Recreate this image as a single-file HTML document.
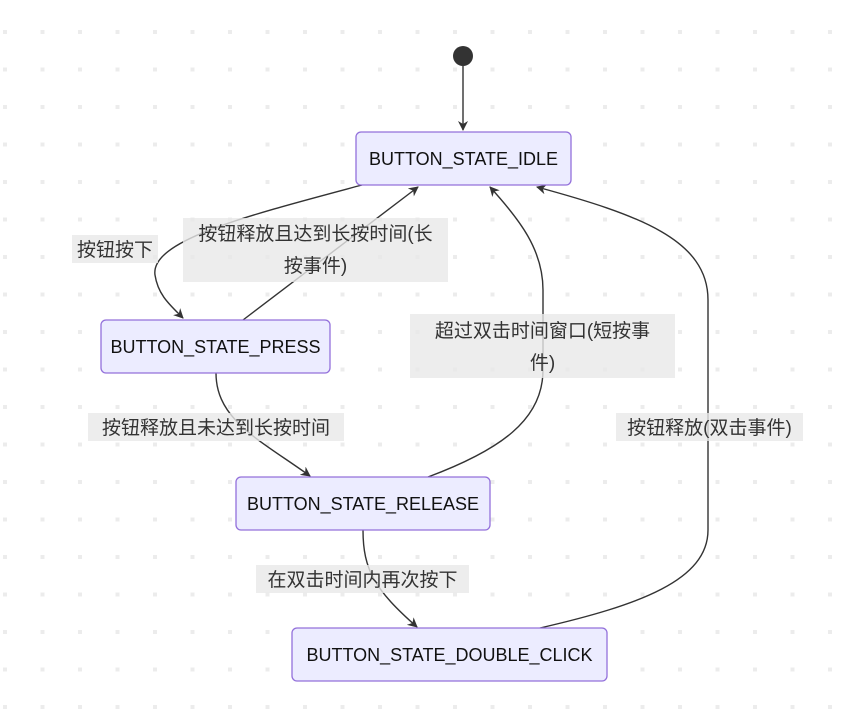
<!DOCTYPE html>
<html><head><meta charset="utf-8"><style>
html,body{margin:0;padding:0;background:#fff;}
svg{display:block;}
.n{fill:#ececff;stroke:#9370db;stroke-width:1.3;}
.t{font-family:"Liberation Sans","Noto Sans CJK SC",sans-serif;font-size:18px;fill:#111;text-anchor:middle;}
.l{font-family:"Liberation Sans","Noto Sans CJK SC",sans-serif;font-size:19px;fill:#333;text-anchor:middle;}
.e{fill:none;stroke:#333;stroke-width:1.4;marker-end:url(#a);}
.lb{fill:rgba(232,232,232,0.8);}
</style></head><body>
<svg width="844" height="720" viewBox="0 0 844 720" xmlns="http://www.w3.org/2000/svg">
<defs>
<pattern id="d" x="3" y="30" width="37.5" height="37.5" patternUnits="userSpaceOnUse"><rect x="0" y="0" width="4" height="4" fill="#ececec"/></pattern>
<marker id="a" viewBox="0 0 10 10" refX="9" refY="5" markerWidth="10" markerHeight="10" orient="auto-start-reverse" markerUnits="userSpaceOnUse"><path d="M0,0 L10,5 L0,10 L3,5 z" fill="#333"/></marker>
</defs>
<rect width="844" height="720" fill="url(#d)"/>
<circle cx="463" cy="56" r="10" fill="#333"/>
<path class="e" d="M463,66 L463,130"/>
<path class="e" d="M362,185 C250,215 150,240 155,275 C158,295 170,305 183,318"/>
<path class="e" d="M243,320 L418,187"/>
<path class="e" d="M216,373 C216,420 260,440 310,476"/>
<path class="e" d="M428,477 C500,450 543,420 543,370 L543,290 C543,250 520,220 490,187"/>
<path class="e" d="M363,530 C363,570 375,590 417,627"/>
<path class="e" d="M540,628 C640,605 708,580 708,530 L708,300 C708,240 640,215 537,187"/>
<rect class="n" x="356" y="132" width="215" height="53" rx="5"/>
<text class="t" x="463.5" y="165">BUTTON_STATE_IDLE</text>
<rect class="n" x="101" y="320" width="229" height="53" rx="5"/>
<text class="t" x="215.5" y="353">BUTTON_STATE_PRESS</text>
<rect class="n" x="236" y="477" width="254" height="53" rx="5"/>
<text class="t" x="363" y="510">BUTTON_STATE_RELEASE</text>
<rect class="n" x="292" y="628" width="315" height="53" rx="5"/>
<text class="t" x="449.5" y="661">BUTTON_STATE_DOUBLE_CLICK</text>
<rect class="lb" x="72" y="235" width="86" height="28"/>
<text class="l" x="115" y="256">按钮按下</text>
<rect class="lb" x="183" y="218" width="265" height="64"/>
<text class="l" x="315.5" y="240">按钮释放且达到长按时间(长</text>
<text class="l" x="315.5" y="272">按事件)</text>
<rect class="lb" x="88" y="413" width="256" height="28"/>
<text class="l" x="216" y="434">按钮释放且未达到长按时间</text>
<rect class="lb" x="410" y="314" width="265" height="64"/>
<text class="l" x="542.5" y="337">超过双击时间窗口(短按事</text>
<text class="l" x="542.5" y="369">件)</text>
<rect class="lb" x="616" y="413" width="187" height="28"/>
<text class="l" x="709.5" y="434">按钮释放(双击事件)</text>
<rect class="lb" x="256" y="565" width="213" height="28"/>
<text class="l" x="362.5" y="586">在双击时间内再次按下</text>
</svg>
</body></html>
